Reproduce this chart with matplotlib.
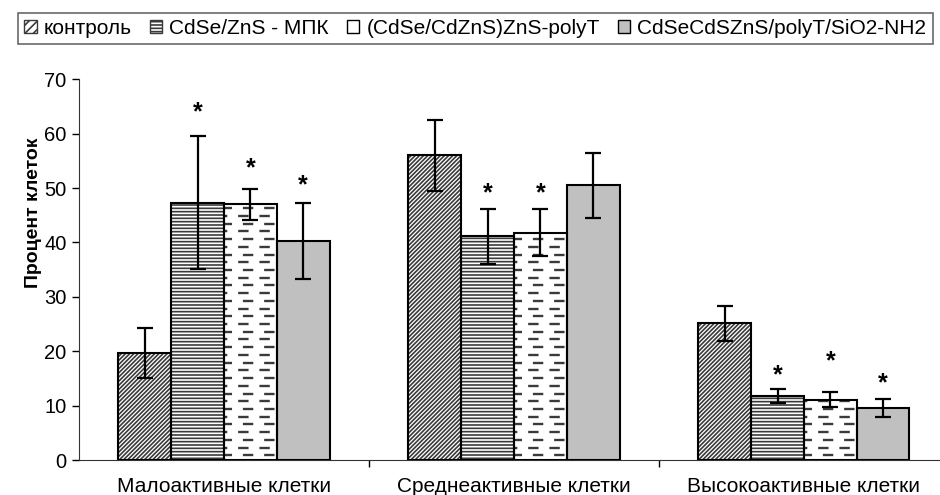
import numpy as np
import matplotlib
matplotlib.use('Agg')
import matplotlib.pyplot as plt
from matplotlib.patches import Patch

plt.rcParams['font.family'] = ['Liberation Sans', 'DejaVu Sans']
plt.rcParams['hatch.linewidth'] = 1.2

# Данные
categories = ['Малоактивные клетки', 'Среднеактивные клетки', 'Высокоактивные клетки']
series = ['контроль', 'CdSe/ZnS - МПК', '(CdSe/CdZnS)ZnS-polyT', 'CdSeCdSZnS/polyT/SiO2-NH2']
values = [
    [19.6, 56.0, 25.1],
    [47.3, 41.1, 11.8],
    [47.0, 41.8, 11.1],
    [40.3, 50.5, 9.6],
]
errors = [
    [4.6, 6.5, 3.2],
    [12.2, 5.1, 1.3],
    [2.9, 4.3, 1.4],
    [7.0, 6.0, 1.7],
]
# звёздочки: (серия, категория, высота)
stars = [
    (1, 0, 64.0), (2, 0, 53.6), (3, 0, 50.5),
    (1, 1, 49.1), (2, 1, 49.1),
    (1, 2, 15.6), (2, 2, 18.2), (3, 2, 14.1),
]

fig = plt.figure(figsize=(9.4, 4.95), dpi=100)
ax = fig.add_axes([0.084, 0.0707, 0.9255, 0.7693])

x = np.arange(len(categories))
w = 0.182
hatches = ['////////', '-----', None, None]
faces = ['white', 'white', 'white', '#c0c0c0']

bars_all = []
for i in range(len(series)):
    xi = x + (i - 1.5) * w
    ax.bar(xi, values[i], w, color=faces[i], edgecolor='#3a3a3a',
           hatch=hatches[i], linewidth=0, zorder=2)
    bars = ax.bar(xi, values[i], w, fill=False, edgecolor='black',
                  linewidth=1.5, zorder=3)
    bars_all.append(bars)
    ax.errorbar(xi, values[i], yerr=errors[i], fmt='none', ecolor='black',
                elinewidth=1.6, capsize=6, capthick=1.6, zorder=4)

# пунктирная штриховка для третьей серии
step = 1.42
for b in bars_all[2]:
    x0, x1 = b.get_x(), b.get_x() + b.get_width()
    h = b.get_height()
    for k, yy in enumerate(np.arange(step * 0.6, h, step)):
        off = 1.0 if k % 2 == 0 else 3.0
        ln, = ax.plot([x0, x1], [yy, yy], color='#3a3a3a', lw=1.7,
                      linestyle=(off, (4.4, 4.6)), zorder=2.5,
                      solid_capstyle='butt', dash_capstyle='butt')
        ln.set_clip_path(b)

for s, c, yy in stars:
    ax.text(x[c] + (s - 1.5) * w, yy, '*', ha='center', va='center',
            fontsize=18, fontweight='bold')

ax.set_xlim(-0.5, 2.5)
ax.set_ylim(0, 70)
ax.set_yticks(np.arange(0, 71, 10))
ax.tick_params(axis='y', labelsize=14.5, length=5, width=1, direction='out', pad=4)
ax.set_xticks([0.5, 1.5])
ax.set_xticklabels([])
ax.tick_params(axis='x', which='major', length=5, width=1, direction='out')
ax.set_xticks(x, minor=True)
ax.set_xticklabels(categories, minor=True, fontsize=15)
ax.tick_params(axis='x', which='minor', length=0, pad=12)
ax.spines['top'].set_visible(False)
ax.spines['right'].set_visible(False)
ax.spines['left'].set_color('#333333')
ax.spines['bottom'].set_color('#333333')
ax.set_ylabel('Процент клеток', fontsize=14, fontweight='bold')
ax.yaxis.set_label_coords(-0.043, 0.65)

handles = [
    Patch(facecolor='white', edgecolor='#3a3a3a', hatch='////', label=series[0]),
    Patch(facecolor='white', edgecolor='#3a3a3a', hatch='-----', label=series[1]),
    Patch(facecolor='white', edgecolor='black', label=series[2]),
    Patch(facecolor='#c0c0c0', edgecolor='black', label=series[3]),
]
leg = fig.legend(handles=handles, loc='upper left', bbox_to_anchor=(0.008, 0.995),
                 ncol=4, fontsize=15, frameon=True, fancybox=False,
                 handlelength=0.6, handleheight=0.6, handletextpad=0.35,
                 columnspacing=0.85, borderpad=0.3, edgecolor='#444444')
leg.get_frame().set_linewidth(1.2)

fig.savefig('out.png', dpi=100)
